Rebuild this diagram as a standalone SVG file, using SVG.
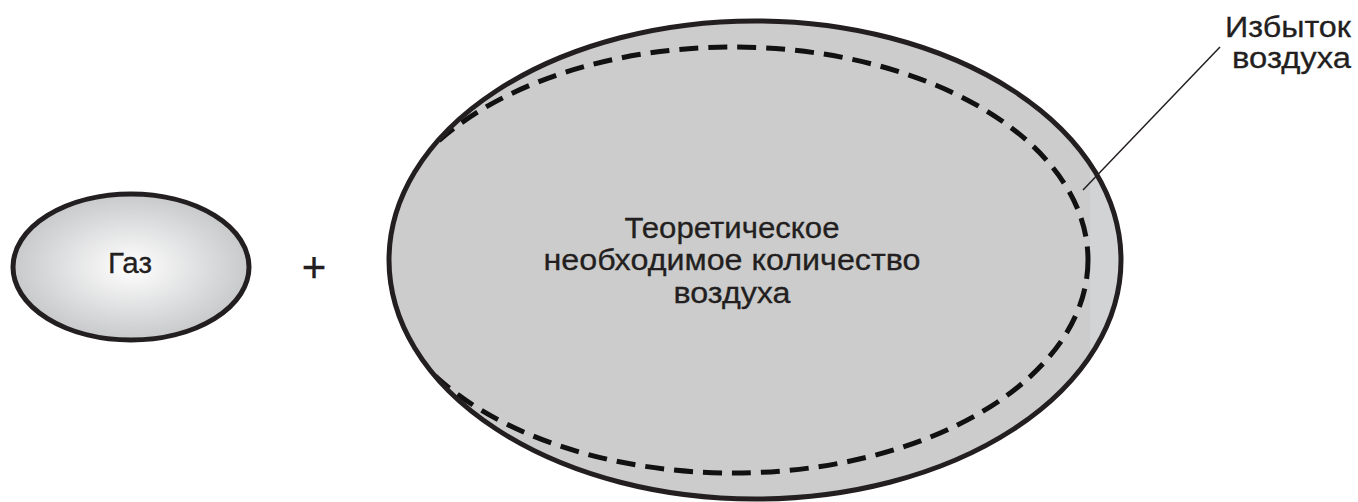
<svg xmlns="http://www.w3.org/2000/svg" width="1358" height="502" viewBox="0 0 1358 502">
<style>
.t{font-family:"Liberation Sans",Arial,sans-serif;fill:#231f20;text-anchor:middle;stroke:#231f20;stroke-width:0.3}
.outline{stroke:#231f20;stroke-width:5}
</style>
<defs>
<radialGradient id="g" cx="50%" cy="50%" r="50%">
<stop offset="0" stop-color="#ffffff"/>
<stop offset="1" stop-color="#c8c9cb"/>
</radialGradient>
<clipPath id="big"><ellipse cx="755" cy="260" rx="366" ry="239"/></clipPath>
</defs>
<rect width="1358" height="502" fill="#ffffff"/>
<g id="gas">
<ellipse class="outline" cx="131" cy="267" rx="118" ry="73" fill="url(#g)"/>
<text class="t" x="130" y="273" font-size="30" textLength="44" lengthAdjust="spacingAndGlyphs">Газ</text>
</g>
<g id="plus">
<text class="t" x="314" y="282" font-size="42">+</text>
</g>
<g id="air">
<ellipse cx="755" cy="260" rx="366" ry="239" fill="#cccccc"/>
<rect x="1090" y="40" width="50" height="343" fill="#d1d3d4" clip-path="url(#big)"/>
<ellipse cx="733" cy="260" rx="355" ry="213" fill="none" stroke="#111" stroke-width="5" stroke-dasharray="19 10" clip-path="url(#big)"/>
<ellipse class="outline" cx="755" cy="260" rx="366" ry="239" fill="none"/>
<text class="t" font-size="30" x="732" y="238" textLength="215" lengthAdjust="spacingAndGlyphs">Теоретическое</text>
<text class="t" font-size="30" x="732" y="270" textLength="377" lengthAdjust="spacingAndGlyphs">необходимое количество</text>
<text class="t" font-size="30" x="732" y="303" textLength="117" lengthAdjust="spacingAndGlyphs">воздуха</text>
</g>
<g id="excess">
<text class="t" font-size="30" style="text-anchor:end" x="1351" y="37" textLength="126" lengthAdjust="spacingAndGlyphs">Избыток</text>
<text class="t" font-size="30" style="text-anchor:end" x="1351" y="68" textLength="119" lengthAdjust="spacingAndGlyphs">воздуха</text>
</g>
<g id="connectors">
<line x1="1220" y1="47" x2="1083" y2="190" stroke="#231f20" stroke-width="1.5"/>
</g>
</svg>
